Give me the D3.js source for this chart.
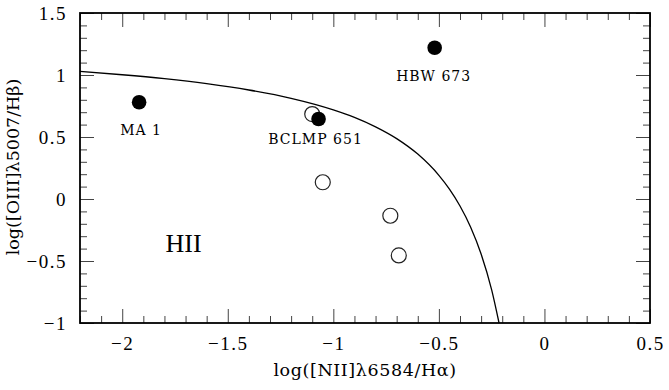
<!DOCTYPE html>
<html>
<head>
<meta charset="utf-8">
<script src="https://cdn.jsdelivr.net/npm/d3@7/dist/d3.min.js"></script>
<style>
  html, body { margin: 0; padding: 0; background: #fff; }
  svg { display: block; }
  .tick-label { font-family: "Liberation Serif", serif; font-size: 19px; letter-spacing: 1.5px; fill: #000; }
  .axis-title { font-family: "DejaVu Serif", serif; font-size: 17.5px; fill: #000; }
  .obj-label { font-family: "DejaVu Serif", serif; font-size: 14px; letter-spacing: 1px; fill: #000; }
  .region-label { font-family: "Liberation Serif", serif; font-size: 26px; fill: #000; }
</style>
</head>
<body>
<script>
// Axis ticks and their labels
const xMajorTicks = [-2, -1.5, -1, -0.5, 0, 0.5];
const xTickLabels = ["\u22122", "\u22121.5", "\u22121", "\u22120.5", "0", "0.5"];
const yMajorTicks = [-1, -0.5, 0, 0.5, 1, 1.5];
const yTickLabels = ["\u22121", "\u22120.5", "0", "0.5", "1", "1.5"];

// Named objects (filled circles)
const namedNames = ["MA 1", "BCLMP 651", "HBW 673"];
const namedX = [-1.92, -1.07, -0.52];
const namedY = [0.78, 0.645, 1.22];

// Other objects (open circles)
const openX = [-1.10, -1.05, -0.73, -0.69];
const openY = [0.685, 0.135, -0.135, -0.455];

// Demarcation curve separating HII regions
const curveX = [-2.2, -2.0, -1.8, -1.6, -1.4, -1.2, -1.0, -0.9, -0.8, -0.7, -0.6, -0.5, -0.45, -0.4, -0.35, -0.3, -0.25, -0.215];
const curveY = [1.029, 1.002, 0.970, 0.930, 0.879, 0.812, 0.719, 0.658, 0.582, 0.487, 0.362, 0.191, 0.080, -0.056, -0.225, -0.443, -0.733, -1.0];

const W = 669, H = 390;
const plot = { left: 80, right: 650, top: 13, bottom: 323 };

const x = d3.scaleLinear().domain([-2.2, 0.5]).range([plot.left, plot.right]);
const y = d3.scaleLinear().domain([-1, 1.5]).range([plot.bottom, plot.top]);

const svg = d3.select("body").append("svg").attr("width", W).attr("height", H);

const majorLen = 14, minorLen = 7;
const xMinor = x.ticks(27).filter(v => !xMajorTicks.some(m => Math.abs(m - v) < 1e-9));
const yMinor = y.ticks(25).filter(v => !yMajorTicks.some(m => Math.abs(m - v) < 1e-9));

function styleAxis(g) {
  g.select(".domain").remove();
  g.selectAll(".tick line").attr("stroke", "#444").attr("stroke-width", 1);
}

// Inward-pointing ticks on all four sides
const sides = [
  { gen: d3.axisBottom, scale: x, tr: `translate(0,${plot.bottom})`, major: xMajorTicks, minor: xMinor, labels: xTickLabels },
  { gen: d3.axisTop, scale: x, tr: `translate(0,${plot.top})`, major: xMajorTicks, minor: xMinor, labels: null },
  { gen: d3.axisLeft, scale: y, tr: `translate(${plot.left},0)`, major: yMajorTicks, minor: yMinor, labels: yTickLabels },
  { gen: d3.axisRight, scale: y, tr: `translate(${plot.right},0)`, major: yMajorTicks, minor: yMinor, labels: null }
];

sides.forEach(s => {
  const gMinor = svg.append("g").attr("transform", s.tr)
    .call(s.gen(s.scale).tickValues(s.minor).tickSize(-minorLen).tickFormat(""));
  styleAxis(gMinor);
  const gMajor = svg.append("g").attr("transform", s.tr)
    .call(s.gen(s.scale).tickValues(s.major).tickSize(-majorLen)
      .tickFormat(s.labels ? (d, i) => s.labels[i] : ""));
  styleAxis(gMajor);
  gMajor.selectAll(".tick text").attr("class", "tick-label");
  if (s.gen === d3.axisBottom) gMajor.selectAll(".tick text").attr("dy", null).attr("y", 27);
  if (s.gen === d3.axisLeft) gMajor.selectAll(".tick text").attr("x", -13).attr("dy", "0.34em");
});
svg.selectAll("g").attr("font-size", null).attr("font-family", null);

// Frame
svg.append("rect")
  .attr("x", plot.left).attr("y", plot.top)
  .attr("width", plot.right - plot.left).attr("height", plot.bottom - plot.top)
  .attr("fill", "none").attr("stroke", "#000").attr("stroke-width", 1.8);

// Demarcation curve
const line = d3.line().x(d => x(d[0])).y(d => y(d[1])).curve(d3.curveMonotoneX);
svg.append("path")
  .datum(curveX.map((v, i) => [v, curveY[i]]))
  .attr("d", line)
  .attr("fill", "none").attr("stroke", "#000").attr("stroke-width", 1.3);

// Open circles
svg.append("g").selectAll("circle")
  .data(openX.map((v, i) => [v, openY[i]]))
  .join("circle")
  .attr("cx", d => x(d[0])).attr("cy", d => y(d[1])).attr("r", 7.5)
  .attr("fill", "none").attr("stroke", "#222").attr("stroke-width", 1.2);

// Filled circles with names
const named = namedNames.map((n, i) => ({ name: n, x: namedX[i], y: namedY[i] }));
svg.append("g").selectAll("circle")
  .data(named)
  .join("circle")
  .attr("cx", d => x(d.x)).attr("cy", d => y(d.y)).attr("r", 7.3)
  .attr("fill", "#000");

const labelOffset = { "MA 1": [2, 33], "BCLMP 651": [-3, 25], "HBW 673": [-1, 33] };
svg.append("g").selectAll("text")
  .data(named)
  .join("text")
  .attr("class", "obj-label")
  .attr("x", d => x(d.x) + labelOffset[d.name][0])
  .attr("y", d => y(d.y) + labelOffset[d.name][1])
  .attr("text-anchor", "middle")
  .text(d => d.name);

// Region label
svg.append("text").attr("class", "region-label")
  .attr("x", 183.5).attr("y", 252).attr("text-anchor", "middle").text("HII");

// Axis titles
svg.append("text").attr("class", "axis-title")
  .attr("x", 365).attr("y", 376).attr("text-anchor", "middle")
  .attr("letter-spacing", "0.6px")
  .text("log([NII]\u03bb6584/H\u03b1)");
svg.append("text").attr("class", "axis-title")
  .attr("transform", "translate(19,167) rotate(-90)").attr("text-anchor", "middle")
  .text("log([OIII]\u03bb5007/H\u03b2)");
</script>
</body>
</html>
